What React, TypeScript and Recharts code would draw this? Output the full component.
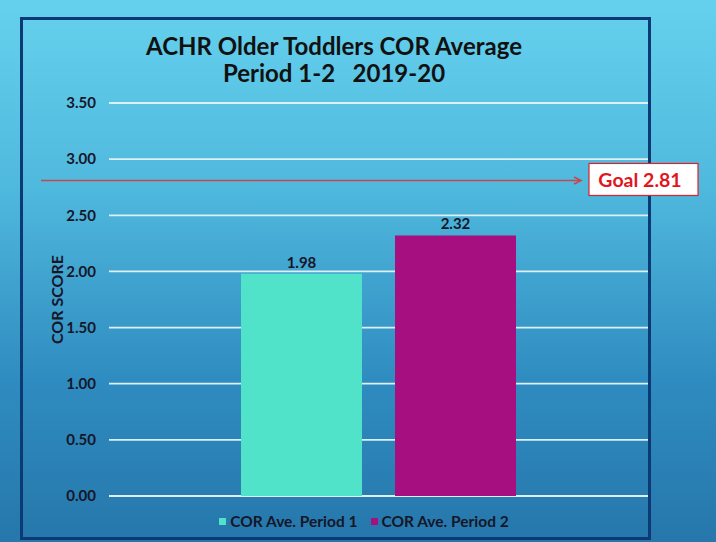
import React from 'react';
import { BarChart, Bar, XAxis, YAxis, CartesianGrid, Legend, LabelList, ReferenceLine } from 'recharts';

const categories = ['Period 1-2 2019-20'];
const period1Values = [1.98];
const period2Values = [2.32];
const seriesNames = ['COR Ave. Period 1', 'COR Ave. Period 2'];
const seriesColors = ['#50e3c9', '#a50f80'];
const yTicks = [0, 0.5, 1, 1.5, 2, 2.5, 3, 3.5];
const goalValue = 2.81;
const titleLines = ['ACHR Older Toddlers COR Average', 'Period 1-2   2019-20'];
const yAxisTitle = 'COR SCORE';

const data = categories.map((c, i) => ({ name: c, p1: period1Values[i], p2: period2Values[i] }));

const FONT = 'Lato, "Open Sans", sans-serif';
const TEXT = '#161629';

const GoalShape = (props: any) => {
  const y = props.y1;
  return (
    <g>
      <line x1={41} y1={y} x2={580} y2={y} stroke="#c8474e" strokeWidth={1.6} />
      <path d={`M ${574} ${y - 3.5} L ${581} ${y} L ${574} ${y + 3.5}`} fill="none" stroke="#c8474e" strokeWidth={1.6} />
      <rect x={589} y={y - 17} width={109} height={32} fill="#ffffff" stroke="#d9242b" strokeWidth={1.2} />
      <text x={640} y={y - 1} textAnchor="middle" dominantBaseline="central" fill="#e2161d" fontFamily={FONT} fontWeight={700} fontSize={19.5}>
        {`Goal ${goalValue.toFixed(2)}`}
      </text>
    </g>
  );
};

const LegendContent = () => (
  <div style={{ height: 35, width: 716, display: 'flex', justifyContent: 'center', alignItems: 'flex-end', paddingLeft: 12, boxSizing: 'border-box' }}>
    {seriesNames.map((n, i) => (
      <div key={n} style={{ display: 'flex', alignItems: 'center', marginRight: i === 0 ? 13 : 0, height: 20 }}>
        <span style={{ width: 7, height: 7, background: seriesColors[i], display: 'inline-block', marginRight: 4 }} />
        <span style={{ fontFamily: FONT, fontSize: 15.5, fontWeight: 700, color: TEXT, whiteSpace: 'pre' }}>{n}</span>
      </div>
    ))}
  </div>
);

const YLabel = (props: any) => {
  const vb = props.viewBox;
  const cx = 56;
  const cy = vb.y + vb.height / 2;
  return (
    <text x={cx} y={cy} transform={`rotate(-90 ${cx} ${cy})`} textAnchor="middle" dominantBaseline="central" fill={TEXT} fontFamily={FONT} fontWeight={700} fontSize={16}>
      {yAxisTitle}
    </text>
  );
};

export default function App() {
  return (
    <div style={{ position: 'absolute', left: 0, top: 0, width: 716, height: 542, overflow: 'hidden', background: 'linear-gradient(180deg, #66d1ee 0%, #4fb8dd 35%, #2f8cc0 70%, #2677ab 100%)' }}>
      <div style={{ position: 'absolute', left: 20, top: 17, width: 631, height: 523, border: '3px solid #0c3a75', boxSizing: 'border-box' }} />
      {titleLines.map((t, i) => (
        <div key={i} style={{ position: 'absolute', left: 0, top: 32 + i * 27, width: 668, textAlign: 'center', fontFamily: FONT, fontWeight: 700, fontSize: 24, lineHeight: '27px', color: '#111', whiteSpace: 'pre' }}>
          {t}
        </div>
      ))}
      <div style={{ position: 'absolute', left: 0, top: 0 }}>
        <BarChart width={716} height={542} data={data} margin={{ top: 103, right: 68, bottom: 11, left: 0 }} barSize={121} barGap={33}>
          <CartesianGrid vertical={false} stroke="#dcf0f6" strokeWidth={1.8} />
          <XAxis dataKey="name" hide />
          <YAxis
            width={109}
            domain={[0, 3.5]}
            ticks={yTicks}
            tickFormatter={(v: number) => v.toFixed(2)}
            axisLine={false}
            tickLine={false}
            tickSize={0}
            tickMargin={13}
            tick={{ fill: TEXT, fontFamily: FONT, fontWeight: 700, fontSize: 15 }}
            label={<YLabel />}
          />
          <ReferenceLine y={goalValue} shape={GoalShape} />
          <Legend verticalAlign="bottom" height={35} content={LegendContent} wrapperStyle={{ left: 0, width: 716 }} />
          <Bar dataKey="p1" name={seriesNames[0]} fill={seriesColors[0]} isAnimationActive={false}>
            <LabelList dataKey="p1" position="top" offset={6} formatter={(v: number) => v.toFixed(2)} style={{ fill: TEXT, fontFamily: FONT, fontWeight: 700, fontSize: 15 }} />
          </Bar>
          <Bar dataKey="p2" name={seriesNames[1]} fill={seriesColors[1]} isAnimationActive={false}>
            <LabelList dataKey="p2" position="top" offset={6} formatter={(v: number) => v.toFixed(2)} style={{ fill: TEXT, fontFamily: FONT, fontWeight: 700, fontSize: 15 }} />
          </Bar>
        </BarChart>
      </div>
    </div>
  );
}
